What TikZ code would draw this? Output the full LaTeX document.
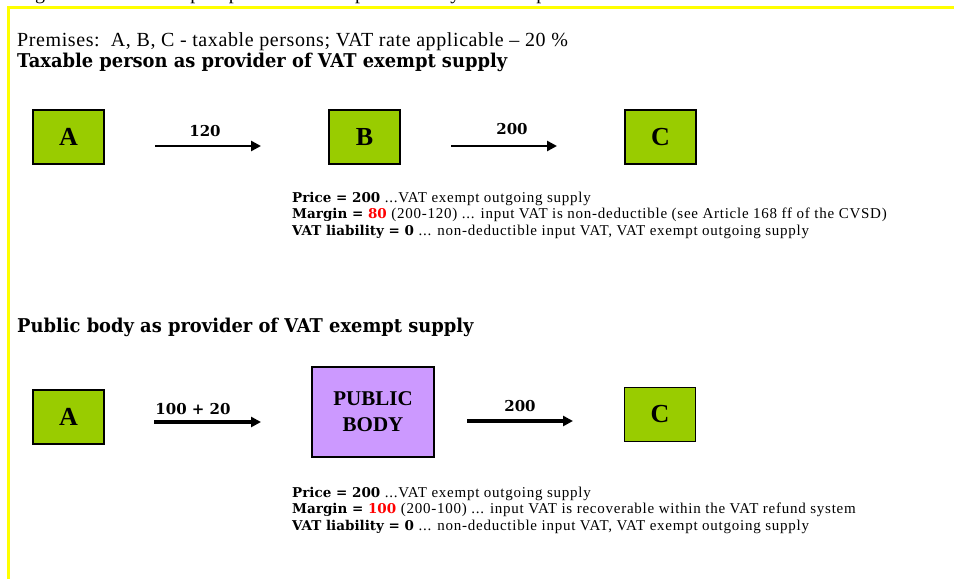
\documentclass[tikz,border=0pt]{standalone}
\usepackage{fontspec}
\setmainfont{Liberation Serif}
\newfontfamily\numfont{DejaVu Serif}
\newfontfamily\headfont[FakeStretch=0.94]{DejaVu Serif}
\newfontfamily\spacedfont[LetterSpace=5]{Liberation Serif}
\newfontfamily\premfont[LetterSpace=3]{Liberation Serif}
\usetikzlibrary{arrows.meta}
\definecolor{boxgreen}{HTML}{99CC00}
\definecolor{boxpurple}{HTML}{CC99FF}
\definecolor{frameyellow}{HTML}{FFFF00}
\definecolor{numred}{HTML}{FF0000}
\newcommand{\bpart}[1]{{\numfont\bfseries\fontsize{13.5}{16}\selectfont #1}}
\begin{document}
\begin{tikzpicture}[x=1pt,y=-1pt,
  entity/.style={draw=black, line width=1.2pt, fill=boxgreen, minimum width=71pt, minimum height=54pt, inner sep=0pt, font=\bfseries\fontsize{26}{28}\selectfont},
  pubbox/.style={draw=black, line width=1.2pt, fill=boxpurple, minimum width=122pt, minimum height=90pt, inner sep=0pt, align=center, font=\bfseries\fontsize{21}{26}\selectfont},
  flowthin/.style={line width=2.6pt, -{Triangle[length=10pt,width=10pt]}},
  flowthick/.style={line width=3.4pt, -{Triangle[length=10pt,width=10pt]}},
  amount/.style={font=\numfont\bfseries\fontsize{15}{17}\selectfont, inner sep=0pt},
  plain/.style={anchor=base west, inner sep=0pt, font=\premfont\fontsize{20}{23}\selectfont},
  heading/.style={anchor=base west, inner sep=0pt, font=\headfont\bfseries\fontsize{19}{22}\selectfont},
  desc/.style={anchor=base west, inner sep=0pt, font=\spacedfont\fontsize{15}{16}\selectfont}
]
\useasboundingbox (0,0) rectangle (954,579);
% frame
\draw[frameyellow, line width=3pt] (8.5,579) -- (8.5,7.5) -- (954,7.5);
% cut-off caption
\node[plain] (caption) at (17,-1) {Figure 4: VAT exempt input due to compensation system for public bodies};
% header texts
\node[plain] (premises) at (17,46) {Premises:\ \ A, B, C - taxable persons; VAT rate applicable \textendash{} 20 \%};
\node[heading] (title1) at (17,67.5) {Taxable person as provider of VAT exempt supply};
% first row
\node[entity] (A1) at (68.5,137) {A};
\node[entity] (B1) at (364.5,137) {B};
\node[entity] (C1) at (660.5,137) {C};
\coordinate (f1s) at (155,146);
\coordinate (f1e) at (261,146);
\coordinate (f2s) at (451,146);
\coordinate (f2e) at (557,146);
\draw[flowthin] (f1s) -- (f1e);
\draw[flowthin] (f2s) -- (f2e);
\node[amount] (l1) at (205,131) {120};
\node[amount] (l2) at (512,129) {200};
\node[desc] (d1a) at (292,202) {\bpart{Price = 200} ...VAT exempt outgoing supply};
\node[desc] (d1b) at (292,218.5) {\bpart{Margin = \textcolor{numred}{80}} (200-120) ... input VAT is non-deductible (see Article 168 ff of the CVSD)};
\node[desc] (d1c) at (292,235) {\bpart{VAT liability = 0} ... non-deductible input VAT, VAT exempt outgoing supply};
% second part
\node[heading] (title2) at (17,332.5) {Public body as provider of VAT exempt supply};
\node[entity] (A2) at (68.5,417) {A};
\node[pubbox] (PB) at (373,412) {PUBLIC\\BODY};
\node[entity] (C2) at (660,414.5) {C};
\coordinate (f3s) at (154,422);
\coordinate (f3e) at (261,422);
\coordinate (f4s) at (467,421);
\coordinate (f4e) at (573,421);
\draw[flowthick] (f3s) -- (f3e);
\draw[flowthick] (f4s) -- (f4e);
\node[amount] (l3) at (193,409) {100 + 20};
\node[amount] (l4) at (520,406) {200};
\node[desc] (d2a) at (292,497) {\bpart{Price = 200} ...VAT exempt outgoing supply};
\node[desc] (d2b) at (292,513.5) {\bpart{Margin = \textcolor{numred}{100}} (200-100) ... input VAT is recoverable within the VAT refund system};
\node[desc] (d2c) at (292,530) {\bpart{VAT liability = 0} ... non-deductible input VAT, VAT exempt outgoing supply};
\end{tikzpicture}
\end{document}
